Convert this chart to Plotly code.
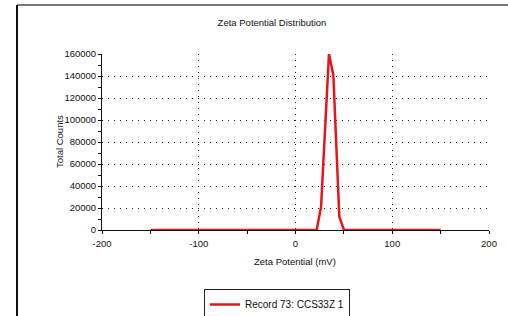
import plotly.graph_objects as go

# Data
zeta_mv = [-150, 21.9, 26.4, 34.6, 39.1, 45.3, 50.1, 150]
total_counts = [0, 0, 21000, 160000, 141000, 12000, 0, 0]
series_name = "Record 73: CCS33Z 1"

x_tickvals = [-200, -100, 0, 100, 200]
y_tickvals = [0, 20000, 40000, 60000, 80000, 100000, 120000, 140000, 160000]

FONT = "Liberation Sans, Arial, sans-serif"
W, H = 508, 316

fig = go.Figure()
fig.add_trace(go.Scatter(
    x=zeta_mv, y=total_counts, mode="lines", name=series_name,
    line=dict(color="#e8141c", width=2.5), cliponaxis=False,
))

# Outer frame (decoration)
L, R, T, B = 102, 489, 54, 230
def px_x(p):
    return (p - L) / (R - L)
def px_y(p):
    return (B - p) / (B - T)

fig.add_shape(type="line", xref="paper", yref="paper",
              x0=px_x(17), x1=px_x(510), y0=px_y(5), y1=px_y(5),
              line=dict(color="#777777", width=2))
fig.add_shape(type="line", xref="paper", yref="paper",
              x0=px_x(17), x1=px_x(17), y0=px_y(5), y1=px_y(318),
              line=dict(color="#111111", width=2))

# Axis titles as annotations
fig.add_annotation(text="Zeta Potential (mV)", xref="paper", yref="paper",
                   x=px_x(294.5), y=px_y(261), xanchor="center", yanchor="middle",
                   showarrow=False, font=dict(size=9.5, family=FONT, color="#111111"))
fig.add_annotation(text="Total Counts", xref="paper", yref="paper", textangle=-90,
                   x=px_x(59), y=px_y(142), xanchor="center", yanchor="middle",
                   showarrow=False, font=dict(size=9.5, family=FONT, color="#111111"))

fig.update_layout(
    width=W, height=H,
    margin=dict(l=L, r=W - R, t=T, b=H - B, autoexpand=False),
    paper_bgcolor="white", plot_bgcolor="white",
    font=dict(family=FONT, size=9.5, color="#111111"),
    title=dict(text="Zeta Potential Distribution", x=272 / W, xanchor="center",
               y=1 - 23 / H, yanchor="middle", yref="container", xref="container",
               font=dict(size=9.5, family=FONT, color="#111111")),
    showlegend=True,
    legend=dict(xref="container", yref="container",
                x=204 / W, y=1 - 289 / H, xanchor="left", yanchor="top",
                bordercolor="#222222", borderwidth=1, bgcolor="white",
                font=dict(size=10, family=FONT), itemwidth=30,
                tracegroupgap=0),
    xaxis=dict(
        range=[-200, 200], tickvals=x_tickvals, ticktext=[str(v) for v in x_tickvals],
        showline=True, linecolor="#111111", linewidth=1, automargin=False,
        ticks="outside", ticklen=3, tickcolor="#111111", ticklabelstandoff=2,
        minor=dict(dtick=50, tick0=-200, ticks="outside", ticklen=3, tickcolor="#111111", showgrid=False),
        showgrid=True, gridcolor="#222222", griddash="1px,5px", gridwidth=1,
        zeroline=False,
    ),
    yaxis=dict(
        range=[0, 160000], tickvals=y_tickvals, ticktext=[str(v) for v in y_tickvals],
        showline=True, linecolor="#111111", linewidth=1, automargin=False,
        ticks="outside", ticklen=3, tickcolor="#111111",
        minor=dict(dtick=10000, tick0=0, ticks="outside", ticklen=3, tickcolor="#111111", showgrid=False),
        showgrid=True, gridcolor="#222222", griddash="1px,5px", gridwidth=1,
        zeroline=False,
    ),
)

fig.write_html("out.html", config={"displayModeBar": False},
               post_script="document.body.style.margin='0';document.body.style.overflow='hidden';")
